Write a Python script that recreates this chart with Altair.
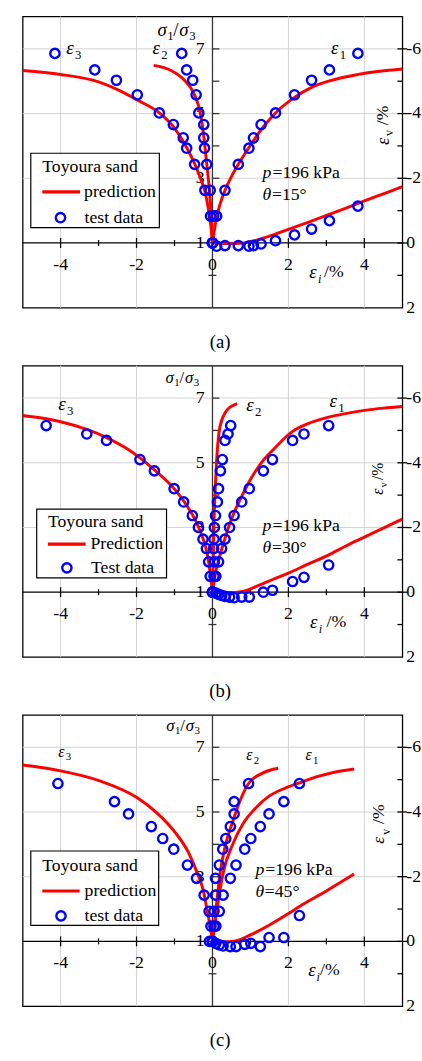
import altair as alt
import pandas as pd

FONT = "Liberation Serif"
RED = "#ff0000"
BLUE = "#0000ff"
GRID = "#d2d2d2"
W, H = 386, 296
FS = 18

XS = alt.Scale(domain=[-5, 5], nice=False, zero=False)
YS = alt.Scale(domain=[-1, 8], nice=False, zero=False)

# ---------------- axis values ----------------
x_major = [-4, -2, 2, 4]
x_minor = [-3, -1, 1, 3]
x_label_pos = [-4, -2, 0, 2, 4]
x_labels = ["-4", "-2", "0", "2", "4"]
ratio_label_pos = [1, 3, 5, 7]
ratio_labels = ["1", "3", "5", "7"]
ratio_ticks = [2, 3, 4, 5, 6, 7]
ev_label_vals = [-6, -4, -2, 0, 2]
ev_labels = ["-6", "-4", "-2", "0", "2"]
ev_major = [-6, -4, -2, 0]
ev_minor = [-5, -3, -1, 1]
grid_x = [-4, -2, 2, 4]
grid_ev = [-6, -4, -2]

# ---------------- panel (a): theta = 15 deg ----------------
a_ratio = [1.0, 1.83, 2.63, 3.43, 3.93, 4.25, 4.66, 5.02, 5.58, 6.03, 6.35, 6.86]
a_e1 = [0, 0.11, 0.33, 0.68, 0.96, 1.08, 1.28, 1.66, 2.16, 2.61, 3.08, 3.83]
a_e2 = [0, 0.03, -0.06, -0.15, -0.21, -0.23, -0.23, -0.36, -0.43, -0.52, -0.68, -0.81]
a_e3 = [0, -0.05, -0.20, -0.47, -0.68, -0.77, -1.03, -1.40, -1.98, -2.53, -3.10, -4.15]
a_ev = [0, 0.10, 0.08, 0.08, 0.10, 0.08, 0.03, -0.07, -0.25, -0.43, -0.69, -1.14]

a_p1_x = [0, 0.05, 0.11, 0.2, 0.33, 0.5, 0.68, 0.96, 1.28, 1.66, 2.16, 2.61, 3.08, 3.83, 4.4, 5.0]
a_p1_r = [1, 1.4, 1.8, 2.2, 2.63, 3.05, 3.43, 3.95, 4.5, 5.02, 5.5, 5.81, 6.01, 6.21, 6.31, 6.38]
a_p2_x = [-1.55, -1.09, -0.74, -0.5, -0.37, -0.28, -0.22, -0.15, -0.08, -0.03, 0]
a_p2_r = [6.49, 6.33, 6.03, 5.65, 5.25, 4.75, 4.2, 3.43, 2.62, 1.8, 1.0]
a_p3_x = [-5, -4, -3, -2.5, -1.98, -1.4, -1.0, -0.68, -0.47, -0.3, -0.2, -0.1, -0.04, 0]
a_p3_r = [6.33, 6.21, 5.98, 5.74, 5.42, 5.02, 4.55, 3.95, 3.45, 2.95, 2.6, 2.0, 1.5, 1.0]
a_pv_x = [0, 0.4, 0.8, 1.2, 1.6, 2.0, 2.5, 3.0, 3.5, 4.0, 4.5, 5.0]
a_pv_e = [0, 0.02, 0.0, -0.1, -0.25, -0.42, -0.63, -0.85, -1.07, -1.3, -1.52, -1.74]

# ---------------- panel (b): theta = 30 deg ----------------
b_ratio = [1.0, 1.49, 1.94, 2.35, 2.64, 3.00, 3.37, 3.79, 4.20, 4.75, 5.10, 5.69, 5.89, 6.15]
b_e1 = [0, 0.09, 0.16, 0.24, 0.33, 0.45, 0.57, 0.77, 0.97, 1.34, 1.58, 2.11, 2.41, 3.06]
b_e2 = [0, 0.04, 0.05, 0.03, 0.04, 0.05, 0.08, 0.13, 0.16, 0.21, 0.26, 0.33, 0.41, 0.48]
b_e3 = [0, -0.06, -0.10, -0.16, -0.25, -0.37, -0.53, -0.76, -1.01, -1.53, -1.91, -2.79, -3.31, -4.38]
b_ev = [0, 0.03, 0.07, 0.10, 0.13, 0.15, 0.17, 0.15, 0.15, 0.0, -0.06, -0.33, -0.46, -0.84]

b_p1_x = [0, 0.05, 0.1, 0.2, 0.3, 0.45, 0.57, 0.77, 0.97, 1.34, 1.58, 2.11, 2.5, 3.06, 3.5, 4.0, 4.5, 5.0]
b_p1_r = [1, 1.4, 1.7, 2.15, 2.55, 3.1, 3.46, 3.96, 4.42, 5.08, 5.38, 5.97, 6.2, 6.41, 6.52, 6.62, 6.69, 6.74]
b_p2_x = [0, 0.026, 0.05, 0.08, 0.11, 0.14, 0.18, 0.24, 0.33, 0.44, 0.59, 0.65]
b_p2_r = [1, 2.35, 3.56, 4.37, 5.08, 5.58, 6.0, 6.3, 6.54, 6.7, 6.8, 6.83]
b_p3_x = [-5, -4.38, -4, -3.31, -2.79, -2.3, -1.91, -1.53, -1.01, -0.76, -0.53, -0.37, -0.25, -0.15, -0.06, 0]
b_p3_r = [6.46, 6.36, 6.27, 6.03, 5.78, 5.47, 5.15, 4.78, 4.2, 3.82, 3.4, 3.02, 2.66, 2.25, 1.6, 1.0]
b_pv_x = [0, 0.4, 0.8, 1.2, 1.6, 2.0, 2.5, 3.04, 3.5, 4.0, 4.5, 5.0]
b_pv_e = [0, 0.02, -0.02, -0.2, -0.4, -0.59, -0.86, -1.14, -1.42, -1.70, -1.98, -2.26]

# ---------------- panel (c): theta = 45 deg ----------------
c_ratio = [1.0, 1.47, 1.93, 2.43, 2.95, 3.36, 3.85, 4.18, 4.55, 4.94, 5.32, 5.88]
c_e1 = [0, 0.09, 0.18, 0.28, 0.47, 0.62, 0.85, 1.01, 1.26, 1.49, 1.88, 2.29]
c_e2 = [0, 0.04, 0.04, 0.08, 0.08, 0.18, 0.27, 0.35, 0.47, 0.57, 0.57, 0.95]
c_e3 = [-0.08, -0.04, -0.09, -0.22, -0.42, -0.66, -1.02, -1.31, -1.61, -2.21, -2.58, -4.07]
c_ev = [0, 0.06, 0.11, 0.14, 0.16, 0.16, 0.09, 0.06, 0.16, -0.12, -0.12, -0.80]

c_p1_x = [0, 0.05, 0.12, 0.2, 0.28, 0.54, 0.8, 1.15, 1.49, 1.92, 2.29, 2.78, 3.21, 3.73]
c_p1_r = [1, 1.4, 2.0, 2.6, 3.11, 4.02, 4.63, 5.14, 5.49, 5.74, 5.90, 6.10, 6.23, 6.33]
c_p2_x = [0, 0.04, 0.11, 0.2, 0.33, 0.54, 0.71, 0.95, 1.32, 1.73]
c_p2_r = [1, 1.4, 2.2, 3.11, 3.92, 4.73, 5.3, 5.88, 6.2, 6.35]
c_p3_x = [-5, -4, -2.99, -1.98, -1.48, -0.99, -0.62, -0.4, -0.25, -0.13, -0.05, 0]
c_p3_r = [6.45, 6.27, 5.97, 5.44, 4.99, 4.38, 3.72, 3.11, 2.61, 1.9, 1.4, 1.0]
c_pv_x = [0, 0.3, 0.6, 1.0, 1.49, 2.0, 2.29, 3.0, 3.73]
c_pv_e = [0, 0.02, -0.01, -0.2, -0.5, -0.86, -1.08, -1.56, -2.08]


# ---------------- helpers ----------------
def XQ(f="x"):
    return alt.X(f"{f}:Q", scale=XS, axis=None)


def YQ(f="y"):
    return alt.Y(f"{f}:Q", scale=YS, axis=None)


def one_row():
    return pd.DataFrame({"k": [0]})


def txt(x, y, text, size=FS, italic=False, dx=0, dy=0, align="left", angle=0):
    df = pd.DataFrame({"x": [x], "y": [y]})
    return alt.Chart(df).mark_text(
        text=text, font=FONT, fontSize=size,
        fontStyle="italic" if italic else "normal",
        align=align, baseline="middle", dx=dx, dy=dy, angle=angle, color="black",
    ).encode(x=XQ(), y=YQ())


def composite(x, y, pieces, angle=0):
    return [txt(x, y, t, size=s, italic=it, dx=dx, dy=dy, angle=angle) for (t, s, it, dx, dy) in pieces]


def eps(sub, size=19):
    return [("ε", size, True, 0, 0), (sub, round(size * 0.66), False, size * 0.47, size * 0.36)]


def sigma_label(size):
    s = size
    sub = round(s * 0.66)
    return [("σ", s, True, 0, 0), ("1", sub, False, 0.53 * s, 0.3 * s), ("/", s, False, 0.85 * s, 0),
            ("σ", s, True, 1.17 * s, 0), ("3", sub, False, 1.7 * s, 0.3 * s)]


def legend_layers(box, title_pos, line_seg, pred_pos, circ_pos, test_pos, pred_txt, test_txt):
    ls = []
    ls.append(alt.Chart(one_row()).mark_rect(fill="white", stroke="black", strokeWidth=1.2).encode(
        x=alt.value(box[0]), x2=alt.value(box[1]), y=alt.value(box[2]), y2=alt.value(box[3])))
    ls.append(alt.Chart(one_row()).mark_text(text="Toyoura sand", font=FONT, fontSize=FS, align="left",
                                             baseline="middle", color="black").encode(
        x=alt.value(title_pos[0]), y=alt.value(title_pos[1])))
    ls.append(alt.Chart(one_row()).mark_rule(color=RED, strokeWidth=3.2).encode(
        x=alt.value(line_seg[0]), x2=alt.value(line_seg[1]), y=alt.value(line_seg[2])))
    ls.append(alt.Chart(one_row()).mark_text(text=pred_txt, font=FONT, fontSize=FS, align="left",
                                             baseline="middle", color="black").encode(
        x=alt.value(pred_pos[0]), y=alt.value(pred_pos[1])))
    ls.append(alt.Chart(one_row()).mark_point(shape="circle", filled=False, size=90, strokeWidth=2.4,
                                              color=BLUE, opacity=1).encode(
        x=alt.value(circ_pos[0]), y=alt.value(circ_pos[1])))
    ls.append(alt.Chart(one_row()).mark_text(text=test_txt, font=FONT, fontSize=FS, align="left",
                                             baseline="middle", color="black").encode(
        x=alt.value(test_pos[0]), y=alt.value(test_pos[1])))
    return ls


def panel(ratio, e1, e2, e3, ev, curves, ann, leg, caption):
    L = []
    # grid
    L.append(alt.Chart(pd.DataFrame({"x": grid_x})).mark_rule(color=GRID, strokeWidth=1).encode(x=XQ()))
    L.append(alt.Chart(pd.DataFrame({"y": [1 - v for v in grid_ev]})).mark_rule(color=GRID, strokeWidth=1).encode(y=YQ()))
    # central axes
    L.append(alt.Chart(pd.DataFrame({"x": [0]})).mark_rule(color="#333333", strokeWidth=1.3).encode(x=XQ()))
    L.append(alt.Chart(pd.DataFrame({"y": [1]})).mark_rule(color="black", strokeWidth=1.3).encode(y=YQ()))
    # ticks on the horizontal axis
    L.append(alt.Chart(pd.DataFrame({"x": x_major, "y": [1] * len(x_major)})).mark_tick(
        orient="vertical", size=10, thickness=1.3, color="black", opacity=1).encode(x=XQ(), y=YQ()))
    L.append(alt.Chart(pd.DataFrame({"x": x_minor, "y": [1] * len(x_minor)})).mark_tick(
        orient="vertical", size=6, thickness=1.3, color="black", opacity=1).encode(x=XQ(), y=YQ()))
    # ticks on the vertical ratio axis (pointing right)
    L.append(alt.Chart(pd.DataFrame({"x": [0] * len(ratio_ticks), "y": ratio_ticks})).mark_tick(
        orient="horizontal", size=7, thickness=1.3, color="#333333", opacity=1, xOffset=3.5).encode(x=XQ(), y=YQ()))
    L.append(alt.Chart(pd.DataFrame({"x": [0], "y": [0]})).mark_tick(
        orient="horizontal", size=8, thickness=1.3, color="#333333", opacity=1).encode(x=XQ(), y=YQ()))
    # ticks on the right frame (volumetric strain)
    L.append(alt.Chart(pd.DataFrame({"x": [5] * len(ev_major), "y": [1 - v for v in ev_major]})).mark_tick(
        orient="horizontal", size=10, thickness=1.3, color="black", opacity=1).encode(x=XQ(), y=YQ()))
    L.append(alt.Chart(pd.DataFrame({"x": [5] * len(ev_minor), "y": [1 - v for v in ev_minor]})).mark_tick(
        orient="horizontal", size=5, thickness=1.3, color="black", opacity=1, xOffset=-2.5).encode(x=XQ(), y=YQ()))
    # tick labels
    L.append(alt.Chart(pd.DataFrame({"x": [0] * len(ratio_label_pos), "y": ratio_label_pos, "t": ratio_labels})).mark_text(
        font=FONT, fontSize=FS, align="right", baseline="middle", dx=-8, color="black").encode(x=XQ(), y=YQ(), text="t:N"))
    L.append(alt.Chart(pd.DataFrame({"x": x_label_pos, "y": [1] * len(x_label_pos), "t": x_labels})).mark_text(
        font=FONT, fontSize=FS, align="center", baseline="middle", dy=22, color="black").encode(x=XQ(), y=YQ(), text="t:N"))
    L.append(alt.Chart(pd.DataFrame({"x": [5] * len(ev_label_vals), "y": [1 - v for v in ev_label_vals], "t": ev_labels})).mark_text(
        font=FONT, fontSize=FS, align="left", baseline="middle", dx=4, color="black").encode(x=XQ(), y=YQ(), text="t:N"))
    # prediction curves
    rows = []
    for name, xs, ys in curves:
        for xv, yv in zip(xs, ys):
            rows.append({"x": xv, "y": yv, "c": name})
    L.append(alt.Chart(pd.DataFrame(rows)).mark_line(color=RED, strokeWidth=3, interpolate="monotone").encode(
        x=XQ(), y=YQ(), detail="c:N"))
    # test data
    pts = []
    for xs in (e1, e2, e3):
        for xv, yv in zip(xs, ratio):
            pts.append({"x": xv, "y": yv})
    for xv, v in zip(e1, ev):
        pts.append({"x": xv, "y": 1 - v})
    L.append(alt.Chart(pd.DataFrame(pts)).mark_point(shape="circle", filled=False, size=90, strokeWidth=2.4,
                                                      color=BLUE, opacity=1).encode(x=XQ(), y=YQ()))
    # legend
    L.extend(legend_layers(**leg))
    # annotations
    for item in ann:
        x, y, pieces = item[0], item[1], item[2]
        angle = item[3] if len(item) > 3 else 0
        L.extend(composite(x, y, pieces, angle))
    # caption
    L.append(alt.Chart(pd.DataFrame({"x": [0.2]})).mark_text(
        text=caption, font=FONT, fontSize=19, align="center", baseline="middle", color="black").encode(
        x=XQ(), y=alt.value(331)))
    return alt.layer(*L).properties(width=W, height=H)


def p_theta(theta):
    return [("θ", FS, True, 0, 0), ("=" + theta + "°", FS, False, 9.5, 0)]


P_TEXT = [("p", FS, True, 0, 0), ("=196 kPa", FS, False, 10, 0)]

ann_a = [
    (-3.85, 7.02, eps("3")),
    (-1.58, 7.02, eps("2")),
    (3.12, 7.02, eps("1")),
    (-1.45, 7.58, sigma_label(19)),
    (2.55, 0.09, [("ε", 19, True, 0, 0), ("i", 12.5, True, 8.8, 6.8), ("/%", FS, False, 15, 0)]),
    (4.49, 4.03, [("ε", 19, True, 0, 0), ("v", 12.5, False, 9, 6.5), ("/%", FS, False, 20, 0)], 270),
    (1.32, 3.15, P_TEXT),
    (1.32, 2.47, p_theta("15")),
]
ann_b = [
    (-4.06, 6.80, eps("3")),
    (0.89, 6.77, eps("2")),
    (3.08, 6.90, eps("1")),
    (-1.24, 7.61, sigma_label(17)),
    (2.57, 0.07, [("ε", 19, True, 0, 0), ("i", 12.5, True, 8.8, 6.8), ("/%", FS, False, 16.7, 0)]),
    (4.37, 4.01, [("ε", 16, True, 0, 0), ("v", 10.5, False, 7.5, 5.5), ("/%", 16, False, 15, 0)], 270),
    (1.32, 3.05, P_TEXT),
    (1.32, 2.37, p_theta("30")),
]
ann_c = [
    (-4.06, 6.86, eps("3", 16)),
    (0.89, 6.75, eps("2", 16)),
    (2.45, 6.75, eps("1", 16)),
    (-1.22, 7.66, sigma_label(17)),
    (2.52, 0.10, [("ε", 19, True, 0, 0), ("i", 12.5, True, 8.5, 6.8), ("/%", FS, False, 12, 0)]),
    (4.40, 4.02, [("ε", 18, True, 0, 0), ("v", 12, False, 9, 6.2), ("/%", FS, False, 20, 0)], 270),
    (1.13, 3.19, P_TEXT),
    (1.13, 2.51, p_theta("45")),
]

leg_a = dict(box=(8.3, 139, 139, 214.7), title_pos=(20, 153.5), line_seg=(20, 58.3, 178.3),
             pred_pos=(62.5, 178.3), circ_pos=(38.5, 204.5), test_pos=(63, 204.5),
             pred_txt="prediction", test_txt="test data")
leg_b = dict(box=(14.3, 146.3, 145.7, 215.7), title_pos=(25.7, 159), line_seg=(25.7, 64, 181.3),
             pred_pos=(69, 181.3), circ_pos=(45, 205.5), test_pos=(69.5, 205.5),
             pred_txt="Prediction", test_txt="Test data")
leg_c = dict(box=(8.3, 138.3, 138.3, 214), title_pos=(20, 154), line_seg=(20, 58, 179),
             pred_pos=(63, 179), circ_pos=(39, 204.3), test_pos=(63, 204.5),
             pred_txt="prediction", test_txt="test data")

pa = panel(a_ratio, a_e1, a_e2, a_e3, a_ev,
           [("e1", a_p1_x, a_p1_r), ("e2", a_p2_x, a_p2_r), ("e3", a_p3_x, a_p3_r),
            ("ev", a_pv_x, [1 - v for v in a_pv_e])],
           ann_a, leg_a, "(a)")
pb = panel(b_ratio, b_e1, b_e2, b_e3, b_ev,
           [("e1", b_p1_x, b_p1_r), ("e2", b_p2_x, b_p2_r), ("e3", b_p3_x, b_p3_r),
            ("ev", b_pv_x, [1 - v for v in b_pv_e])],
           ann_b, leg_b, "(b)")
pc = panel(c_ratio, c_e1, c_e2, c_e3, c_ev,
           [("e1", c_p1_x, c_p1_r), ("e2", c_p2_x, c_p2_r), ("e3", c_p3_x, c_p3_r),
            ("ev", c_pv_x, [1 - v for v in c_pv_e])],
           ann_c, leg_c, "(c)")

chart = alt.vconcat(pa, pb, pc, spacing=59, bounds="flush").properties(
    padding={"left": 16, "top": 6, "right": 0, "bottom": 0}
).configure_view(stroke="black", strokeWidth=1.3)

chart.save("out.html", embed_options={"renderer": "svg", "actions": False})
